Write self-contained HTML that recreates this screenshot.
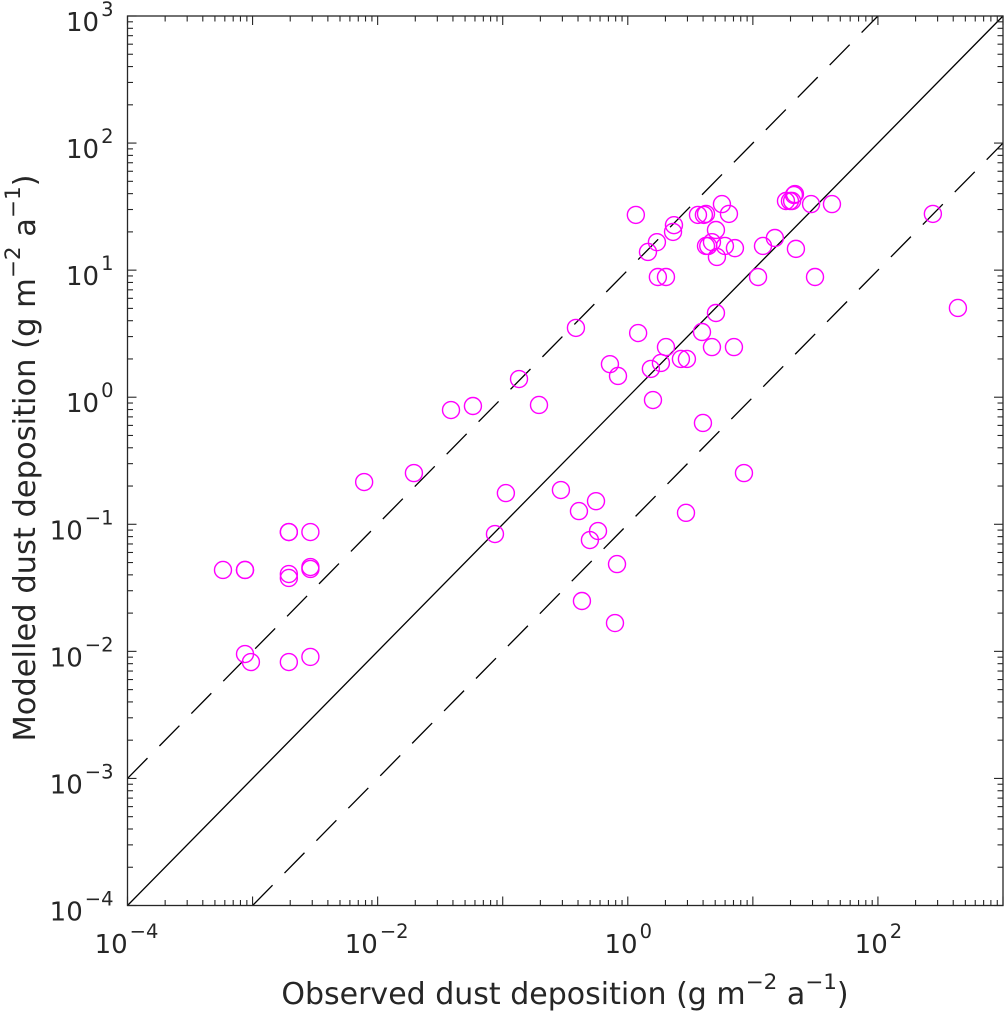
<!DOCTYPE html>
<html>
<head>
<meta charset="utf-8">
<title>Modelled vs observed dust deposition</title>
<style>
html,body{margin:0;padding:0;background:#fff;}
svg{display:block;}
text{font-family:"DejaVu Sans","Liberation Sans",sans-serif;fill:#262626;}
</style>
</head>
<body>
<svg id="chart" xmlns="http://www.w3.org/2000/svg" width="1004" height="1011" viewBox="0 0 1004 1011">
  <rect x="127.5" y="16" width="875.5" height="889.5" fill="#fff"/>
  <g id="lines"></g>
  <g id="points"></g>
  <g id="axes"></g>
  <text x="565" y="1004" text-anchor="middle" font-size="30">Observed dust deposition (g m<tspan font-size="21.5" dy="-15">−2</tspan><tspan dy="15"> a</tspan><tspan font-size="21.5" dy="-15">−1</tspan><tspan dy="15">)</tspan></text>
  <text transform="translate(35 458) rotate(-90)" x="0" y="0" text-anchor="middle" font-size="30.5">Modelled dust deposition (g m<tspan font-size="21.5" dy="-15">−2</tspan><tspan dy="15"> a</tspan><tspan font-size="21.5" dy="-15">−1</tspan><tspan dy="15">)</tspan></text>
</svg>
<script>
const observed = [
  0.00058,0.00087,0.00087,0.00195,0.00195,0.0029,0.00195,0.00195,0.0029,0.0029,
  0.00087,0.00097,0.00195,0.0029,0.0078,0.0195,0.0386,0.0578,0.135,0.195,
  0.385,0.0867,0.106,0.292,0.407,0.557,0.578,0.498,0.43,0.82,
  0.79,2.92,8.49,3.99,1.59,1.53,1.84,2.66,2.97,2.02,
  0.835,0.72,1.21,3.92,4.71,7.06,5.07,1.16,2.34,2.30,
  1.71,1.45,1.74,2.02,3.64,4.06,4.22,5.66,6.44,5.07,
  4.71,4.22,4.40,5.98,7.19,5.16,12.05,15.0,11.0,22.1,
  31.4,18.4,19.8,20.6,21.3,21.7,29.2,42.9,275,436
];
const modelled = [
  0.0437,0.0437,0.0437,0.0869,0.0869,0.0869,0.0406,0.0378,0.0461,0.0445,
  0.00953,0.00824,0.00824,0.00904,0.215,0.253,0.793,0.853,1.39,0.869,
  3.51,0.0838,0.176,0.186,0.127,0.152,0.0885,0.0752,0.0249,0.0486,
  0.0167,0.123,0.253,0.627,0.95,1.67,1.86,2.0,2.0,2.48,
  1.47,1.82,3.2,3.26,2.48,2.48,4.6,27.2,22.6,20,
  16.6,13.9,8.83,8.83,27.2,27.2,27.7,33.1,27.7,20.7,
  16.6,15.5,15.5,15.5,14.9,12.7,15.5,17.9,8.83,14.7,
  8.83,35,35,35,39,39.7,33.1,33.1,27.7,5.04
];
const xTickExponents = [-4,-2,0,2];
const yTickExponents = [-4,-3,-2,-1,0,1,2,3];
const xDomainExponents = [-4,3];
const yDomainExponents = [-4,3];
const lineRatios = [1,10,0.1];

const NS = 'http://www.w3.org/2000/svg';
const LEFT = 127.5, RIGHT = 1003, TOP = 16, BOTTOM = 905.5;
function xScale(v){
  return LEFT + (Math.log10(v) - xDomainExponents[0]) / (xDomainExponents[1] - xDomainExponents[0]) * (RIGHT - LEFT);
}
function yScale(v){
  return BOTTOM - (Math.log10(v) - yDomainExponents[0]) / (yDomainExponents[1] - yDomainExponents[0]) * (BOTTOM - TOP);
}
function mk(tag, parent, attrs){
  const el = document.createElementNS(NS, tag);
  for (const k in attrs) el.setAttribute(k, attrs[k]);
  parent.appendChild(el);
  return el;
}
function expText(e){ return String(e).replace('-', '\u2212'); }

const xMin = Math.pow(10, xDomainExponents[0]), xMax = Math.pow(10, xDomainExponents[1]);
const yMin = Math.pow(10, yDomainExponents[0]), yMax = Math.pow(10, yDomainExponents[1]);

/* reference lines: y = ratio * x, clipped to the axes */
const linesG = document.getElementById('lines');
lineRatios.forEach(function(r){
  const x0 = Math.max(xMin, yMin / r), x1 = Math.min(xMax, yMax / r);
  const ln = mk('line', linesG, {x1:xScale(x0), y1:yScale(x0 * r), x2:xScale(x1), y2:yScale(x1 * r), stroke:'#000', 'stroke-width':1.3, fill:'none'});
  
  
  if (r !== 1) ln.setAttribute('stroke-dasharray', '28.5 17');
});

/* scatter points */
const pointsG = document.getElementById('points');
observed.forEach(function(v, i){
  const c = mk('circle', pointsG, {cx:xScale(v), cy:yScale(modelled[i]), r:8.5, fill:'none', stroke:'#ff00ff', 'stroke-width':1.4});
  
  
});

/* axes box and ticks */
const axesG = document.getElementById('axes');
const box = mk('rect', axesG, {x:LEFT, y:TOP, width:RIGHT-LEFT, height:BOTTOM-TOP, fill:'none', stroke:'#262626', 'stroke-width':1.3});



function tick(x1, y1, x2, y2, w){
  const t = mk('line', axesG, {x1:x1, y1:y1, x2:x2, y2:y2, stroke:'#262626', 'stroke-width':w});
  
  
}
for (let e = xDomainExponents[0]; e <= xDomainExponents[1]; e++){
  for (let m = 1; m <= 9; m++){
    const v = m * Math.pow(10, e);
    if (v > xMax * 1.0001) continue;
    const len = m === 1 ? 9 : 5.5;
    const px = xScale(v);
    tick(px, BOTTOM, px, BOTTOM - len, 1.1);
    tick(px, TOP, px, TOP + len, 1.1);
  }
}
for (let e = yDomainExponents[0]; e <= yDomainExponents[1]; e++){
  for (let m = 1; m <= 9; m++){
    const v = m * Math.pow(10, e);
    if (v > yMax * 1.0001) continue;
    const len = m === 1 ? 9 : 5.5;
    const py = yScale(v);
    tick(LEFT, py, LEFT + len, py, 1.1);
    tick(RIGHT, py, RIGHT - len, py, 1.1);
  }
}

/* tick labels */
function tickLabel(x, y, anchor, e, name){
  const t = mk('text', axesG, {x:x, y:y, 'text-anchor':anchor, 'font-size':26});
  
  
  t.appendChild(document.createTextNode('10'));
  const s = mk('tspan', t, {'font-size':19.5, dy:-15, dx:2});
  s.textContent = expText(e);
}
xTickExponents.forEach(function(e){
  tickLabel(xScale(Math.pow(10, e)) + (e < 0 ? -1 : 0.5), 953, 'middle', e, 'x-tick-label');
});
yTickExponents.forEach(function(e){
  tickLabel(113.5, yScale(Math.pow(10, e)) + 15, 'end', e, 'y-tick-label');
});
</script>
</body>
</html>
